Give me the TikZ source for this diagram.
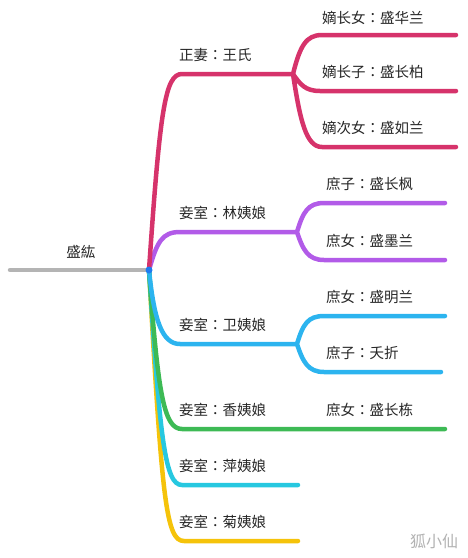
\documentclass[tikz,border=0pt]{standalone}
\usepackage{fontspec}
\setmainfont{Noto Sans CJK SC}
\newfontfamily\tcfont{Noto Sans CJK TC}
\newcommand{\fcolon}{{\tcfont ：}}
\usepackage{tikz}

\definecolor{wangred}{HTML}{D6336B}
\definecolor{linpurple}{HTML}{B25BE8}
\definecolor{weiblue}{HTML}{2CB4EF}
\definecolor{xianggreen}{HTML}{3DBA55}
\definecolor{pingcyan}{HTML}{27C8E0}
\definecolor{juyellow}{HTML}{F5C30A}
\definecolor{rootgray}{HTML}{B4B4B4}
\definecolor{hubblue}{HTML}{1E7BF0}

\tikzset{
  lbl/.style={anchor=west, inner sep=0pt, font=\fontsize{14.5pt}{17pt}\selectfont, text=black!85},
  branch/.style={line width=4.5pt, line cap=round}
}

\begin{document}
\begin{tikzpicture}[x=1pt, y=-1pt]
				\useasboundingbox (0,0) rectangle (468,558);
				\path (10, 270) coordinate (root)
				(149, 270) coordinate (hub)
				(293, 74) coordinate (wang)
				(297, 232) coordinate (lin)
				(297, 344) coordinate (wei)
				(445, 429) coordinate (xiang)
				(298, 485) coordinate (ping)
				(298, 541) coordinate (ju)
				(456, 35) coordinate (c1)
				(456, 91) coordinate (c2)
				(456, 147) coordinate (c3)
				(445, 203) coordinate (c4)
				(445, 260) coordinate (c5)
				(445, 316) coordinate (c6)
				(441, 372) coordinate (c7);
				
				\path (81, 252) node[lbl, anchor=center] (n0){盛紘}
				(179, 55) node[lbl] (n1){正妻\fcolon 王氏}
				(179, 213) node[lbl] (n2){妾室\fcolon 林姨娘}
				(179, 325) node[lbl] (n3){妾室\fcolon 卫姨娘}
				(179, 410) node[lbl] (n4){妾室\fcolon 香姨娘}
				(179, 466) node[lbl] (n5){妾室\fcolon 萍姨娘}
				(179, 522) node[lbl] (n6){妾室\fcolon 菊姨娘}
				(322, 18) node[lbl] (m1){嫡长女\fcolon 盛华兰}
				(322, 72) node[lbl] (m2){嫡长子\fcolon 盛长柏}
				(322, 128) node[lbl] (m3){嫡次女\fcolon 盛如兰}
				(326, 184) node[lbl] (m4){庶子\fcolon 盛长枫}
				(326, 241) node[lbl] (m5){庶女\fcolon 盛墨兰}
				(326, 297) node[lbl] (m6){庶女\fcolon 盛明兰}
				(326, 353) node[lbl] (m7){庶子\fcolon 夭折}
				(326, 410) node[lbl] (m8){庶女\fcolon 盛长栋}
				(434, 541) node[lbl, anchor=center, text=black!30, font=\fontsize{16pt}{18pt}\selectfont] (mark){狐小仙};
				
				\draw[branch, rootgray] (root) -- (hub);
				\draw[branch, juyellow] (hub) .. controls (162, 500) and (166, 541) .. (184, 541) -- (ju);
				\draw[branch, pingcyan] (hub) .. controls (160, 440) and (165, 485) .. (182, 485) -- (ping);
				\draw[branch, xianggreen] (hub) .. controls (158, 395) and (164, 429) .. (182, 429) -- (xiang);
				\draw[branch, weiblue] (hub) .. controls (154, 320) and (162, 344) .. (180, 344) -- (wei)
				(wei) .. controls (303, 324) and (308, 316) .. (324, 316) -- (c6)
				(wei) .. controls (303, 362) and (308, 372) .. (324, 372) -- (c7);
				\draw[branch, linpurple] (hub) .. controls (157, 242) and (162, 232) .. (180, 232) -- (lin)
				(lin) .. controls (303, 212) and (308, 203) .. (324, 203) -- (c4)
				(lin) .. controls (303, 250) and (308, 260) .. (324, 260) -- (c5);
				\draw[branch, wangred] (hub) .. controls (160, 110) and (165, 74) .. (182, 74) -- (wang)
				(wang) .. controls (300, 46) and (306, 35) .. (322, 35) -- (c1)
				(wang) .. controls (300, 84) and (305, 91) .. (320, 91) -- (c2)
				(wang) .. controls (300, 120) and (306, 147) .. (322, 147) -- (c3);
				\fill[hubblue] (hub) circle (3.5);
			\end{tikzpicture}
\end{document}
